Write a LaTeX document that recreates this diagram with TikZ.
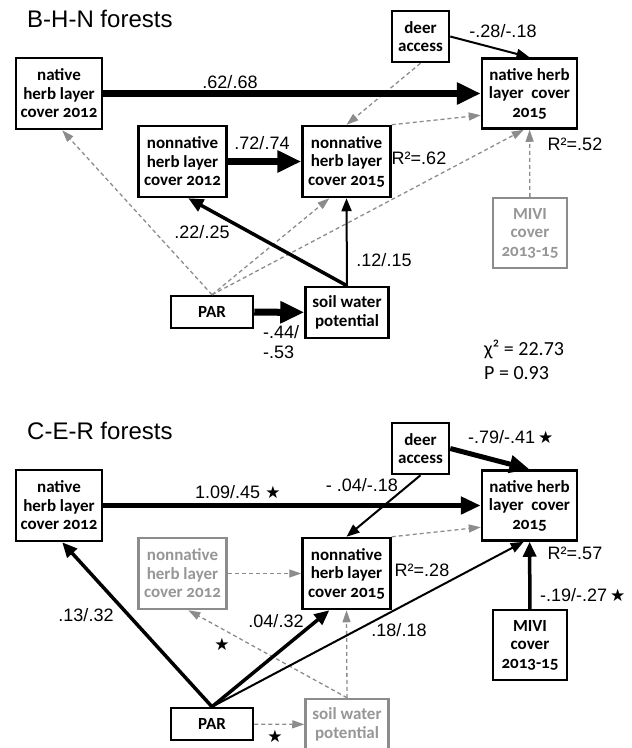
\documentclass[tikz,border=0pt]{standalone}
\usepackage{fontspec}
\setmainfont{Liberation Sans}
\newfontfamily\boxfont[Numbers=OldStyle]{Carlito}
\newfontfamily\statfont{Carlito}
\newfontfamily\starfont{DejaVu Sans}
\usetikzlibrary{arrows.meta}
\definecolor{greyLine}{RGB}{140,140,140}
\definecolor{greyText}{RGB}{150,150,150}
\newcommand{\sigstar}{{\starfont\fontsize{17}{17}\selectfont★}}

\begin{document}
\begin{tikzpicture}[
    x=1pt, y=-1pt,
    box2/.style={rectangle, draw, line width=2.5pt, minimum width=88pt, minimum height=71pt, align=center, inner sep=0pt, font=\boxfont\bfseries\fontsize{17}{18.5}\selectfont},
    greybox/.style={box2, draw=greyLine, text=greyText},
    coef/.style={inner sep=0pt, font=\fontsize{18}{20}\selectfont},
    heading/.style={inner sep=0pt, anchor=west, font=\fontsize{24}{28}\selectfont},
    fitstat/.style={inner sep=0pt, anchor=west, font=\statfont\fontsize{20}{24}\selectfont},
    sigmark/.style={inner sep=0pt, font=\starfont\fontsize{17}{17}\selectfont},
    heavyarr/.style={line width=7pt, -{Triangle[length=24pt, width=21pt]}},
    strongarr/.style={line width=5pt, -{Triangle[length=20pt, width=17pt]}},
    midarr/.style={line width=3.5pt, -{Triangle[length=15pt, width=13pt]}},
    lightarr/.style={line width=2pt, -{Triangle[length=13pt, width=10pt]}},
    dasharr/.style={greyLine, line width=1.3pt, dash pattern=on 4pt off 3pt, -{Triangle[length=12pt, width=8pt]}}
]
\useasboundingbox (0,0) rectangle (632,748);

% B-H-N forests
\node[heading] (th) at (27,19) {B-H-N forests};
\node[box2, minimum width=86pt] (tnat12) at (59,93.5) {native\\herb layer\\cover 2012};
\node[box2, minimum width=95pt, minimum height=70pt] (tnat15) at (529.5,93.5) {native herb\\layer~~cover\\2015};
\node[box2, minimum width=57pt, minimum height=51pt] (tdeer) at (420.5,36.5) {deer\\access};
\node[box2] (tnon12) at (182.5,161.5) {nonnative\\herb layer\\cover 2012};
\node[box2] (tnon15) at (346.5,161.5) {nonnative\\herb layer\\cover 2015};
\node[greybox, minimum width=74pt, minimum height=70pt] (tmivi) at (530,233) {MIVI\\cover\\2013-15};
\node[box2, minimum width=82pt, minimum height=32pt] (tpar) at (212,312) {PAR};
\node[box2, minimum width=83pt, minimum height=51pt] (tsoil) at (347,312.5) {soil water\\potential};

\draw[dasharr] (tdeer.south) -- (tnon15.north);
\draw[dasharr] (tnon15.north east) -- (tnat15.-156);
\draw[dasharr] (tpar.north) -- (tnat12.-85);
\draw[dasharr] (tpar.north) -- (tnon15.-115);
\draw[dasharr] (tpar.north) -- (tnat15.-99);
\draw[dasharr] (tmivi) -- (tnat15);
\draw[heavyarr] (tnat12) -- (tnat15);
\draw[lightarr] (tdeer.east) -- (tnat15.north);
\draw[heavyarr] (tnon12) -- (tnon15);
\draw[midarr] (tsoil.north) -- (tnon12.-81);
\draw[lightarr] (tsoil.north) -- (tnon15.south);
\draw[heavyarr] (tpar) -- (tsoil);

\node[coef] (tl1) at (230,82) {.62/.68};
\node[coef] (tl2) at (503,31) {-.28/-.18};
\node[coef] (tl3) at (262,143) {.72/.74};
\node[coef] (tl4) at (419,158) {R²=.62};
\node[coef] (tl5) at (575,144) {R²=.52};
\node[coef] (tl6) at (202,232) {.22/.25};
\node[coef] (tl7) at (384,260) {.12/.15};
\node[coef, anchor=west, align=left] (tl8) at (263,342.5) {-.44/\\-.53};
\node[fitstat] (tchi) at (484,349) {χ² = 22.73};
\node[fitstat] (tp) at (484,373) {P = 0.93};

% C-E-R forests
\node[heading] (bh) at (27,431) {C-E-R forests};
\node[box2, minimum width=86pt] (bnat12) at (59,505.5) {native\\herb layer\\cover 2012};
\node[box2, minimum width=95pt, minimum height=70pt] (bnat15) at (529.5,505.5) {native herb\\layer~~cover\\2015};
\node[box2, minimum width=57pt, minimum height=51pt] (bdeer) at (420.5,448.5) {deer\\access};
\node[greybox] (bnon12) at (182.5,573.5) {nonnative\\herb layer\\cover 2012};
\node[box2] (bnon15) at (346.5,573.5) {nonnative\\herb layer\\cover 2015};
\node[box2, minimum width=74pt, minimum height=70pt] (bmivi) at (530,645) {MIVI\\cover\\2013-15};
\node[box2, minimum width=82pt, minimum height=32pt] (bpar) at (212,724) {PAR};
\node[greybox, minimum width=83pt, minimum height=51pt] (bsoil) at (347,724.5) {soil water\\potential};

\draw[dasharr] (bnon15.north east) -- (bnat15.-156);
\draw[dasharr] (bnon12) -- (bnon15);
\draw[dasharr] (bsoil.north) -- (bnon12.-81);
\draw[dasharr] (bsoil.north) -- (bnon15.south);
\draw[dasharr] (bpar) -- (bsoil);
\draw[strongarr] (bnat12) -- (bnat15);
\draw[strongarr] (bdeer.east) -- (bnat15.north);
\draw[lightarr] (bdeer.south) -- (bnon15.north);
\draw[midarr] (bpar.north) -- (bnat12.-85);
\draw[midarr] (bpar.north) -- (bnon15.-115);
\draw[lightarr] (bpar.north) -- (bnat15.-99);
\draw[midarr] (bmivi) -- (bnat15);

\node[coef, anchor=west] (bl1) at (195,492) {1.09/.45 \sigstar};
\node[coef] (bl2) at (362,485) {- .04/-.18};
\node[coef, anchor=west] (bl3) at (468,437) {-.79/-.41\,\sigstar};
\node[coef] (bl4) at (422,570) {R²=.28};
\node[coef] (bl5) at (575,553) {R²=.57};
\node[coef, anchor=west] (bl6) at (540,595) {-.19/-.27\,\sigstar};
\node[coef] (bl7) at (86,615) {.13/.32};
\node[coef] (bl8) at (276,621) {.04/.32};
\node[coef] (bl9) at (399,630) {.18/.18};
\node[sigmark] (bs1) at (222,644) {★};
\node[sigmark] (bs2) at (275,736) {★};
\end{tikzpicture}
\end{document}
